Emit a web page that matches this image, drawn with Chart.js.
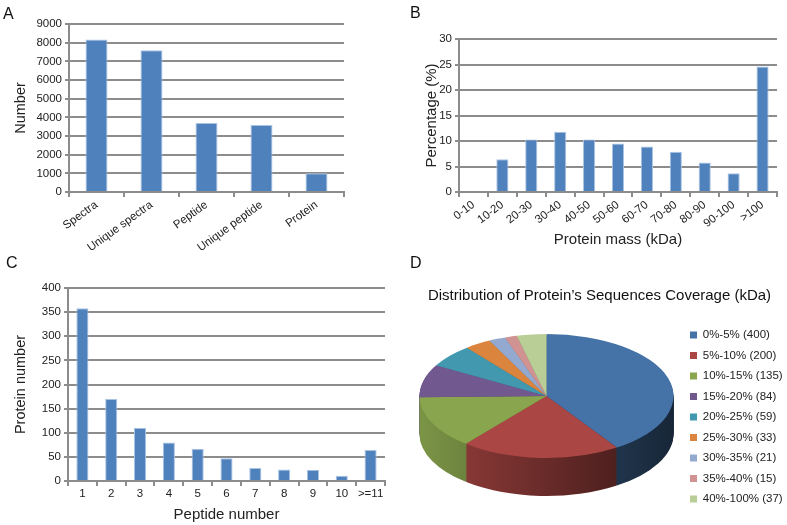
<!DOCTYPE html>
<html>
<head>
<meta charset="utf-8">
<script src="https://cdn.jsdelivr.net/npm/chart.js@4.4.0/dist/chart.umd.min.js"></script>
<style>
  body { margin: 0; background: #fff; }
  #page { position: relative; width: 787px; height: 525px; overflow: hidden; font-family: "Liberation Sans", Arial, sans-serif; }
  canvas { position: absolute; }
  .tag { position: absolute; font-size: 16px; line-height: 16px; color: #111; }
</style>
</head>
<body>
<div id="page">
  <canvas id="chartA" width="390" height="258" style="left:0;top:0;width:390px;height:258px"></canvas>
  <canvas id="chartB" width="387" height="258" style="left:400px;top:0;width:387px;height:258px"></canvas>
  <canvas id="chartC" width="395" height="267" style="left:0;top:258px;width:395px;height:267px"></canvas>
  <canvas id="chartD" width="387" height="275" style="left:400px;top:250px;width:387px;height:275px"></canvas>
  <div class="tag" style="left:3px;top:6px">A</div>
  <div class="tag" style="left:410px;top:5px">B</div>
  <div class="tag" style="left:6px;top:255px">C</div>
  <div class="tag" style="left:410px;top:255px">D</div>
</div>
<script>
// A: identification counts
const countLabels = ["Spectra", "Unique spectra", "Peptide", "Unique peptide", "Protein"];
const countValues = [8170, 7590, 3700, 3590, 1000];

// B: protein mass distribution (%)
const massLabels = ["0-10", "10-20", "20-30", "30-40", "40-50", "50-60", "60-70", "70-80", "80-90", "90-100", ">100"];
const massPercent = [0, 6.4, 10.3, 11.8, 10.3, 9.5, 8.9, 7.9, 5.8, 3.7, 24.6];

// C: proteins by number of peptides
const peptideLabels = ["1", "2", "3", "4", "5", "6", "7", "8", "9", "10", ">=11"];
const proteinCounts = [358, 170, 110, 80, 67, 47, 27, 24, 23, 11, 64];

// D: sequence coverage
const coverageRanges = ["0%-5%", "5%-10%", "10%-15%", "15%-20%", "20%-25%", "25%-30%", "30%-35%", "35%-40%", "40%-100%"];
const coverageCounts = [400, 200, 135, 84, 59, 33, 21, 15, 37];
const coverageColors = ["#4572A7", "#AA4643", "#89A54E", "#71588F", "#4198AF", "#DB843D", "#93A9CF", "#D19392", "#B9CD96"];

const FONT = "'Liberation Sans', Arial, sans-serif";
const GRID = "#8c8c8c";
const TEXT = "#222";

function barChart(id, labels, values, o) {
  return new Chart(document.getElementById(id), {
    type: "bar",
    data: {
      labels: labels,
      datasets: [{
        data: values,
        backgroundColor: "#4F81BD",
        borderColor: "#a9c3e3",
        borderWidth: 1,
        barPercentage: o.bar,
        categoryPercentage: 1
      }]
    },
    options: {
      responsive: false,
      animation: false,
      layout: { padding: o.pad },
      plugins: { legend: { display: false }, tooltip: { enabled: false } },
      scales: {
        x: {
          grid: { offset: true, drawOnChartArea: false, color: GRID, lineWidth: 2, tickLength: 5 },
          border: { color: GRID, width: 2 },
          ticks: { color: TEXT, font: { family: FONT, size: 11.5 }, minRotation: o.rot, maxRotation: o.rot, padding: 1, autoSkip: false },
          title: o.xTitle
            ? { display: true, text: o.xTitle, color: TEXT, font: { family: FONT, size: 15 }, padding: { top: 0, bottom: o.xTitlePad } }
            : { display: false },
          afterFit: (s) => { s.height = o.xHeight; }
        },
        y: {
          min: 0,
          max: o.max,
          ticks: { stepSize: o.step, color: TEXT, font: { family: FONT, size: 11.5 }, padding: 3, callback: (v) => String(v) },
          grid: { color: GRID, lineWidth: 2, tickLength: 4 },
          border: { color: GRID, width: 2 },
          title: { display: true, text: o.yTitle, color: TEXT, font: { family: FONT, size: o.yTitleSize }, padding: { top: o.yTitlePad, bottom: 0 } },
          afterFit: (s) => { s.width = o.yWidth; }
        }
      }
    }
  });
}

barChart("chartA", countLabels, countValues, {
  bar: 0.4, rot: 36, max: 9000, step: 1000,
  pad: { top: 24, right: 46, left: 0, bottom: 0 },
  xHeight: 66, yWidth: 69, yTitle: "Number", yTitleSize: 14.5, yTitlePad: 12
});

barChart("chartB", massLabels, massPercent, {
  bar: 0.42, rot: 37, max: 30, step: 5,
  pad: { top: 39, right: 10, left: 0, bottom: 0 },
  xHeight: 66, yWidth: 59, xTitle: "Protein mass (kDa)", xTitlePad: 9,
  yTitle: "Percentage (%)", yTitleSize: 15, yTitlePad: 23
});

barChart("chartC", peptideLabels, proteinCounts, {
  bar: 0.42, rot: 0, max: 400, step: 50,
  pad: { top: 30, right: 10, left: 0, bottom: 0 },
  xHeight: 44, yWidth: 68, xTitle: "Peptide number", xTitlePad: 1,
  yTitle: "Protein number", yTitleSize: 14.5, yTitlePad: 12
});

// squash the pie into an ellipse and extrude it downwards
const RX = 127, RY = 62, DEPTH = 38;
function shade(hex, f) {
  const n = parseInt(hex.slice(1), 16);
  const r = Math.round(((n >> 16) & 255) * f), g = Math.round(((n >> 8) & 255) * f), b = Math.round((n & 255) * f);
  return `rgb(${r},${g},${b})`;
}
const pie3d = {
  id: "pie3d",
  beforeDatasetsDraw(chart) {
    const ctx = chart.ctx;
    const arcs = chart.getDatasetMeta(0).data;
    const cx = arcs[0].x, cy = arcs[0].y, r = arcs[0].outerRadius;
    const sx = RX / r, sy = RY / r;
    ctx.save();
    ctx.translate(cx, cy - DEPTH / 2);
    ctx.scale(sx, sy);
    ctx.translate(-cx, -cy);
    const fills = arcs.map((arc, i) => {
      const g = ctx.createLinearGradient(cx - r, 0, cx + r, 0);
      g.addColorStop(0, shade(coverageColors[i], 0.9));
      g.addColorStop(1, shade(coverageColors[i], 0.33));
      return g;
    });
    for (let d = DEPTH; d > 0; d--) {
      const off = d / sy;
      arcs.forEach((arc, i) => {
        ctx.beginPath();
        ctx.moveTo(cx, cy + off);
        ctx.arc(cx, cy + off, r, arc.startAngle, arc.endAngle);
        ctx.closePath();
        ctx.fillStyle = fills[i];
        ctx.fill();
      });
    }
  },
  afterDatasetsDraw(chart) {
    chart.ctx.restore();
  }
};

new Chart(document.getElementById("chartD"), {
  type: "pie",
  data: {
    labels: coverageRanges.map((r, i) => `${r} (${coverageCounts[i]})`),
    datasets: [{
      data: coverageCounts,
      backgroundColor: coverageColors,
      borderWidth: 0,
      clip: false
    }]
  },
  options: {
    responsive: false,
    animation: false,
    layout: { padding: { top: 37, left: 12, right: 0, bottom: 0 } },
    plugins: {
      tooltip: { enabled: false },
      title: {
        display: true,
        text: "Distribution of Protein’s Sequences Coverage (kDa)",
        color: "#111",
        font: { family: FONT, size: 15, weight: "normal" },
        padding: { top: 0, bottom: 0 }
      },
      legend: {
        position: "right",
        maxWidth: 106,
        // empty title only pushes the item list down a little
        title: { display: true, text: "", font: { size: 10 }, padding: { top: 5, bottom: 5 } },
        labels: { boxWidth: 7, boxHeight: 7, padding: 9, color: TEXT, font: { family: FONT, size: 11.5 } }
      }
    }
  },
  plugins: [pie3d]
});
</script>
</body>
</html>
